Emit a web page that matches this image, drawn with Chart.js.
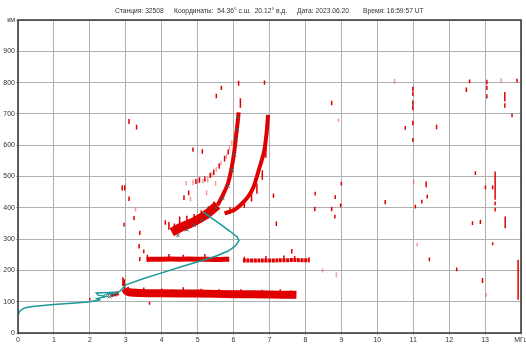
<!DOCTYPE html>
<html>
<head>
<meta charset="utf-8">
<script src="https://cdn.jsdelivr.net/npm/chart.js@4"></script>
<style>
  html, body { margin: 0; padding: 0; background: #fff; }
  #wrap { width: 526px; height: 345px; }
</style>
</head>
<body>
<div id="wrap"><canvas id="iono"></canvas></div>
<script>
// header groups
const headerParts = ['Станция: 32508', 'Координаты:  54.36° с.ш.  20.12° в.д.', 'Дата: 2023.06.20', 'Время: 16:59:57 UT'];

// axes (MHz, km)
const freqTicks = [0, 1, 2, 3, 4, 5, 6, 7, 8, 9, 10, 11, 12, 13, 14];
const heightTicks = [0, 100, 200, 300, 400, 500, 600, 700, 800, 900, 1000];

// main echo traces (centre lines)
const eFreq = [2.98, 3.02, 3.1, 3.4, 4.0, 5.0, 6.0, 7.0, 7.75];
const eHeight = [142, 134, 130, 128, 127, 126, 124, 123, 122];

const blobFreq = [2.58, 2.7, 2.8];
const blobHeight = [121, 124, 128];

const esFreqA = [3.58, 4.0, 4.5, 5.0, 5.5, 5.88];
const esHeightA = [235, 236, 236, 236, 235, 236];
const esFreqB = [6.26, 6.7, 7.2, 7.7, 8.11];
const esHeightB = [232, 232, 232, 233, 232];

const oLowFreq = [4.28, 4.5, 4.8, 5.0, 5.3, 5.55];
const oLowHeight = [322, 336, 350, 362, 384, 408];
const oHighFreq = [5.55, 5.7, 5.85, 5.95, 6.02, 6.07, 6.12, 6.14];
const oHighHeight = [408, 440, 480, 530, 580, 630, 680, 705];

const xFreq = [5.75, 6.0, 6.2, 6.4, 6.55, 6.7, 6.85, 6.92, 6.96];
const xHeight = [382, 392, 410, 435, 465, 520, 580, 640, 697];

// scaled trace markers
const markFreq = [2.55, 2.69, 4.45, 4.7, 4.9, 5.1, 5.3, 5.5, 5.7, 5.85, 5.95, 6.02, 6.06, 6.1, 6.13];
const markHeight = [116, 122, 312, 330, 345, 360, 378, 400, 430, 470, 520, 570, 620, 650, 690];

// N(h) profile
const profFreq = [0.0, 0.03, 0.1, 0.2, 0.4, 1.0, 1.6, 2.0, 2.27, 2.2, 2.46, 2.23, 2.18, 2.64, 2.5, 2.75, 2.85, 3.0, 3.5, 4.0, 4.5, 5.05, 5.5, 5.85, 6.05, 6.15, 6.1, 5.9, 5.6, 5.35, 5.15];
const profHeight = [56, 67, 75, 81, 85, 91, 96, 100, 106, 110, 117, 121, 128, 130, 124, 127, 135, 154, 174, 192, 210, 229, 245, 262, 278, 295, 307, 325, 350, 370, 387];

// single echo dashes: frequency, lower and upper height
const dashFreq = [3.09, 3.30, 2.90, 2.97, 3.09, 3.23, 2.95, 3.39, 3.37, 3.50, 3.39, 4.10, 2.00, 3.66, 2.92, 2.96,
  6.14, 6.19, 5.66, 5.52, 6.86, 4.87, 5.13, 7.11, 7.19,
  10.99, 10.99, 10.99, 10.99, 10.99, 10.99, 8.73, 10.78, 11.65, 12.57, 12.48, 13.05, 13.05, 13.05, 13.89,
  13.55, 13.55, 13.75, 12.73, 13.28, 13.28, 13.28, 13.01, 13.21, 12.65, 12.87, 13.56, 13.21, 13.92, 12.93,
  12.21, 11.45, 11.36, 11.39, 11.24, 11.06, 10.22, 9.00, 8.83, 8.98, 8.73, 8.82, 8.27, 8.26, 7.62,
  3.5, 4.0, 4.3, 4.6, 5.1, 5.6, 6.2, 6.8, 7.3, 7.6,
  3.6, 4.2, 4.6, 5.2, 5.5, 6.3, 6.9, 7.4, 7.7, 8.1,
  4.2, 4.35, 4.5, 4.7, 4.9, 5.1, 5.3, 5.45, 5.9, 6.0, 6.3, 6.5, 6.65, 6.8, 6.9,
  4.95, 5.05, 5.2, 5.35, 5.45, 5.6, 5.75, 5.85, 4.62, 4.75];
const dashLow = [668, 650, 455, 455, 422, 360, 340, 313, 270, 255, 229, 346, 104, 90, 150, 135,
  790, 720, 776, 750, 793, 579, 573, 432, 342,
  773, 757, 727, 712, 664, 611, 728, 649, 651, 798, 770, 795, 776, 749, 800,
  740, 720, 689, 505, 426, 408, 388, 459, 459, 345, 348, 335, 280, 106, 160,
  197, 229, 466, 430, 414, 398, 411, 471, 428, 402, 389, 366, 439, 389, 254,
  128, 128, 128, 128, 128, 127, 126, 125, 125, 124,
  230, 232, 232, 232, 232, 230, 230, 230, 230, 228,
  330, 315, 322, 332, 342, 352, 366, 380, 380, 385, 400, 420, 445, 490, 560,
  476, 480, 484, 495, 505, 525, 548, 570, 425, 440];
const dashHigh = [684, 665, 472, 472, 436, 374, 352, 327, 284, 267, 243, 360, 112, 100, 178, 172,
  806, 750, 790, 764, 807, 593, 587, 446, 356,
  787, 771, 743, 726, 678, 623, 742, 661, 665, 810, 784, 809, 790, 763, 812,
  770, 734, 701, 517, 516, 420, 400, 471, 471, 357, 362, 372, 290, 234, 176,
  209, 241, 484, 442, 426, 410, 425, 483, 440, 414, 403, 378, 451, 403, 268,
  145, 142, 140, 146, 141, 140, 140, 138, 140, 136,
  250, 252, 250, 252, 247, 244, 246, 248, 246, 242,
  355, 350, 372, 375, 380, 392, 405, 420, 402, 400, 425, 448, 478, 520, 600,
  492, 498, 500, 512, 522, 542, 566, 586, 440, 455];

// weaker echo dashes
const faintFreq = [10.48, 8.92, 13.45, 11.01, 11.11, 8.48, 8.86, 13.03, 3.27,
  4.68, 4.87, 5.0, 5.15, 5.28, 5.4, 5.52, 5.65, 5.8, 5.89, 5.95, 4.8, 5.25, 5.5];
const faintLow = [796, 674, 800, 476, 276, 193, 178, 116, 388,
  472, 472, 478, 478, 482, 500, 515, 535, 556, 582, 600, 420, 440, 470];
const faintHigh = [812, 686, 814, 488, 288, 205, 194, 128, 400,
  486, 490, 494, 492, 498, 514, 530, 550, 572, 598, 615, 436, 456, 486];

const RED = '#e00000';
const FAINT = 'rgba(235, 60, 60, 0.5)';
const TEAL = '#1b9898';

function toPoints(fx, hy) {
    return fx.map((f, i) => ({ x: f, y: hy[i] }));
}

function dashPoints(fx, lo, hi) {
    const pts = [];
    fx.forEach((f, i) => {
        pts.push({ x: f, y: lo[i] }, { x: f, y: hi[i] }, { x: f, y: null });
    });
    return pts;
}

function traceSet(fx, hy, width, dash) {
    return {
        data: toPoints(fx, hy),
        showLine: true,
        borderColor: RED,
        borderWidth: width,
        borderDash: dash || [],
        pointRadius: 0,
        tension: 0.3,
        order: 5
    };
}

const framePlugin = {
    id: 'frame',
    afterDatasetsDraw(chart) {
        const a = chart.chartArea;
        const c = chart.ctx;
        c.save();
        c.strokeStyle = '#333';
        c.lineWidth = 1.5;
        c.strokeRect(a.left, a.top, a.right - a.left, a.bottom - a.top);
        c.restore();
    }
};

// header line above the plot, one group after another
const headerPlugin = {
    id: 'header',
    afterDraw(chart) {
        const c = chart.ctx;
        const starts = [115, 174, 297, 363];
        c.save();
        c.font = '6.7px "Liberation Sans"';
        c.fillStyle = '#333';
        c.textAlign = 'left';
        c.textBaseline = 'middle';
        headerParts.forEach((t, i) => c.fillText(t, starts[i], 11.5));
        c.restore();
    }
};

const ctx = document.getElementById('iono').getContext('2d');
new Chart(ctx, {
    type: 'scatter',
    data: {
        datasets: [
            {
                data: toPoints(profFreq, profHeight),
                showLine: true,
                borderColor: TEAL,
                borderWidth: 1.5,
                pointRadius: 0,
                order: 0
            },
            {
                data: toPoints(markFreq, markHeight),
                pointStyle: 'crossRot',
                pointRadius: 2.5,
                borderColor: '#555',
                borderWidth: 1,
                order: 1
            },
            {
                data: dashPoints(dashFreq, dashLow, dashHigh),
                showLine: true,
                spanGaps: false,
                borderColor: RED,
                borderWidth: 1.5,
                pointRadius: 0,
                order: 3
            },
            {
                data: dashPoints(faintFreq, faintLow, faintHigh),
                showLine: true,
                spanGaps: false,
                borderColor: FAINT,
                borderWidth: 1.5,
                pointRadius: 0,
                order: 4
            },
            traceSet(eFreq, eHeight, 8),
            traceSet(blobFreq, blobHeight, 4),
            traceSet(esFreqA, esHeightA, 5),
            traceSet(esFreqB, esHeightB, 4, [3, 0.6]),
            traceSet(oLowFreq, oLowHeight, 9),
            traceSet(oHighFreq, oHighHeight, 4),
            traceSet(xFreq, xHeight, 4)
        ]
    },
    options: {
        responsive: true,
        maintainAspectRatio: false,
        animation: false,
        events: [],
        layout: { padding: { left: 0, right: 4, top: 20, bottom: 0 } },
        plugins: {
            legend: { display: false },
            tooltip: { enabled: false },
            title: { display: false }
        },
        scales: {
            x: {
                type: 'linear',
                min: 0,
                max: 14,
                afterBuildTicks: (s) => { s.ticks = freqTicks.map(v => ({ value: v })); },
                afterFit: (s) => { s.height = 12; s.paddingRight = 0; s.paddingLeft = 0; },
                grid: { color: '#b0b0b0', lineWidth: 1, tickLength: 2 },
                border: { display: false },
                ticks: {
                    color: '#333',
                    padding: 1,
                    maxRotation: 0,
                    font: { family: 'Liberation Sans', size: 7 },
                    callback: (v) => v === 14 ? 'МГц' : v
                }
            },
            y: {
                type: 'linear',
                min: 0,
                max: 1000,
                afterBuildTicks: (s) => { s.ticks = heightTicks.map(v => ({ value: v })); },
                afterFit: (s) => { s.width = 18; s.paddingTop = 0; },
                grid: { color: '#b0b0b0', lineWidth: 1, tickLength: 2 },
                border: { display: false },
                ticks: {
                    color: '#333',
                    padding: 1,
                    font: { family: 'Liberation Sans', size: 7 },
                    callback: (v) => v === 1000 ? 'км' : v
                }
            }
        }
    },
    plugins: [framePlugin, headerPlugin]
});
</script>
</body>
</html>
